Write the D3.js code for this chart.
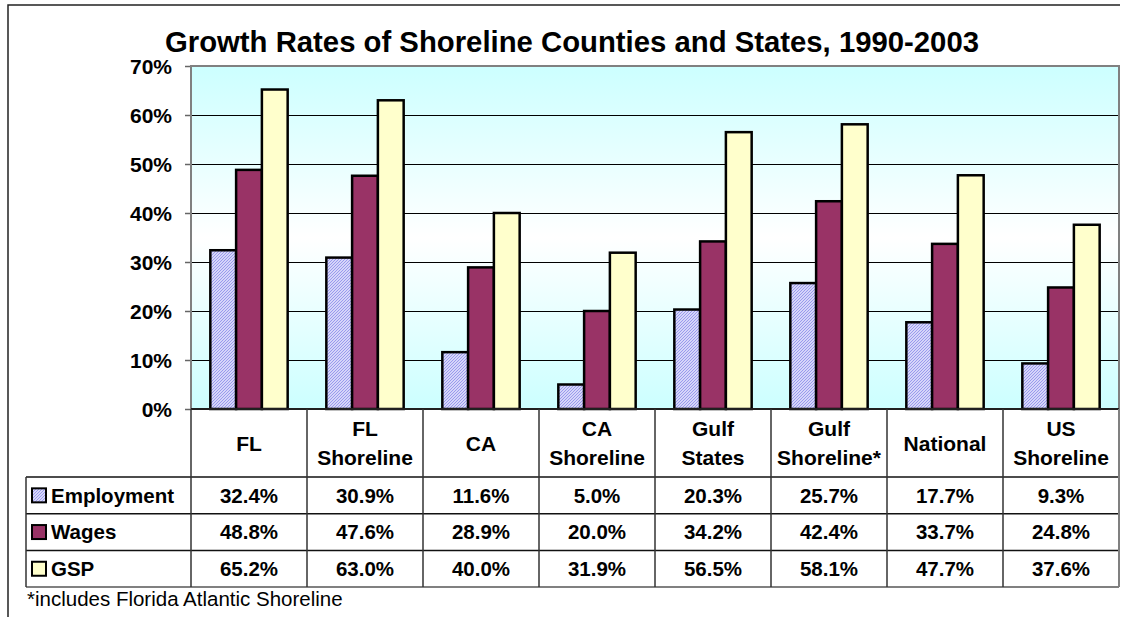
<!DOCTYPE html>
<html>
<head>
<meta charset="utf-8">
<script src="https://cdn.jsdelivr.net/npm/d3@7"></script>
<style>
  html, body { margin: 0; padding: 0; background: #fff; }
  svg { display: block; font-family: Arial, "Liberation Sans", sans-serif; }
</style>
</head>
<body>
<svg id="chart" width="1127" height="617"></svg>
<script>
// Growth rates 1990-2003, percent
const categories = ["FL", "FL Shoreline", "CA", "CA Shoreline", "Gulf States", "Gulf Shoreline*", "National", "US Shoreline"];
const categoryLines = [["FL"], ["FL", "Shoreline"], ["CA"], ["CA", "Shoreline"], ["Gulf", "States"], ["Gulf", "Shoreline*"], ["National"], ["US", "Shoreline"]];
const seriesNames = ["Employment", "Wages", "GSP"];
const employment = [32.4, 30.9, 11.6, 5.0, 20.3, 25.7, 17.7, 9.3];
const wages = [48.8, 47.6, 28.9, 20.0, 34.2, 42.4, 33.7, 24.8];
const gsp = [65.2, 63.0, 40.0, 31.9, 56.5, 58.1, 47.7, 37.6];
const yTicks = [0, 10, 20, 30, 40, 50, 60, 70];

const seriesValues = [employment, wages, gsp];
const fills = ["url(#hatch)", "#993366", "#ffffcc"];

const svg = d3.select("#chart");
const defs = svg.append("defs");

// diagonal hatch for Employment
const pat = defs.append("pattern")
  .attr("id", "hatch").attr("patternUnits", "userSpaceOnUse")
  .attr("width", 3).attr("height", 3);
pat.append("rect").attr("width", 3).attr("height", 3).attr("fill", "#f0f0ff");
pat.append("path").attr("d", "M-1,1 L1,-1 M0,3 L3,0 M2,4 L4,2")
  .attr("stroke", "#9595ec").attr("stroke-width", 1.1);

// plot background: cyan at the edges, white in the middle
const grad = defs.append("linearGradient").attr("id", "bg")
  .attr("x1", 0).attr("y1", 0).attr("x2", 0).attr("y2", 1);
grad.append("stop").attr("offset", "0%").attr("stop-color", "#ccffff");
grad.append("stop").attr("offset", "50%").attr("stop-color", "#ffffff");
grad.append("stop").attr("offset", "100%").attr("stop-color", "#ccffff");

const plot = { left: 191, right: 1119, top: 66, bottom: 409 };
const table = { left: 26, header: 477, rowH: 36.7 };
const tableFont = 20.5;

const x = d3.scaleBand().domain(categories).range([plot.left, plot.right]).padding(0);
const bw = x.bandwidth();
const barW = bw / 4.5;
const x1 = d3.scaleBand().domain(seriesNames).range([barW * 0.75, bw - barW * 0.75]).padding(0);
const y = d3.scaleLinear().domain([0, 70]).range([plot.bottom, plot.top]);

// outer frame
svg.append("path").attr("d", "M8,617 L8,5 L1120,5")
  .attr("fill", "none").attr("stroke", "#222").attr("stroke-width", 1.5);

// title
svg.append("text").attr("x", 572).attr("y", 52).attr("text-anchor", "middle")
  .attr("font-size", 29.3).attr("font-weight", "bold")
  .text("Growth Rates of Shoreline Counties and States, 1990-2003");

// plot area
svg.append("rect").attr("x", plot.left).attr("y", plot.top)
  .attr("width", plot.right - plot.left).attr("height", plot.bottom - plot.top)
  .attr("fill", "url(#bg)");

// gridlines
svg.append("g").selectAll("line").data(yTicks.filter(t => t > 0 && t < 70)).join("line")
  .attr("x1", plot.left).attr("x2", plot.right)
  .attr("y1", d => y(d) + 0.5).attr("y2", d => y(d) + 0.5)
  .attr("stroke", "#000").attr("stroke-width", 1);

// y axis
const yAxis = d3.axisLeft(y).tickValues(yTicks).tickSize(6).tickFormat(d => d + "%");
const ya = svg.append("g").attr("transform", `translate(${plot.left},0)`).call(yAxis);
ya.select(".domain").remove();
ya.selectAll(".tick line").attr("stroke", "#666").attr("stroke-width", 1.5);
ya.selectAll(".tick text").attr("x", -19).attr("dy", "0.36em")
  .attr("font-size", 21).attr("font-weight", "bold").attr("fill", "#000")
  .attr("font-family", "Arial, 'Liberation Sans', sans-serif");

// bars
const groups = svg.append("g").selectAll("g").data(categories).join("g")
  .attr("transform", d => `translate(${x(d)},0)`);
groups.selectAll("rect")
  .data((d, i) => seriesNames.map((s, j) => ({ s, j, v: seriesValues[j][i] })))
  .join("rect")
  .attr("x", d => x1(d.s)).attr("width", x1.bandwidth())
  .attr("y", d => y(d.v)).attr("height", d => y(0) - y(d.v))
  .attr("fill", d => fills[d.j])
  .attr("stroke", "#000").attr("stroke-width", 2.5);

// plot border and base line
svg.append("rect").attr("x", plot.left).attr("y", plot.top)
  .attr("width", plot.right - plot.left).attr("height", plot.bottom - plot.top)
  .attr("fill", "none").attr("stroke", "#808080").attr("stroke-width", 2);
svg.append("line").attr("x1", plot.left).attr("x2", plot.right)
  .attr("y1", plot.bottom).attr("y2", plot.bottom)
  .attr("stroke", "#000").attr("stroke-width", 1.5);

// data table
const rowTop = i => table.header + i * table.rowH;
const tableBottom = rowTop(3);
const tg = svg.append("g");

// horizontal rules
[0, 1, 2].forEach(i => {
  tg.append("line").attr("x1", table.left).attr("x2", plot.right)
    .attr("y1", rowTop(i)).attr("y2", rowTop(i))
    .attr("stroke", "#111").attr("stroke-width", 1.5);
});
tg.append("line").attr("x1", table.left).attr("x2", plot.right)
  .attr("y1", tableBottom).attr("y2", tableBottom)
  .attr("stroke", "#808080").attr("stroke-width", 2);

// vertical rules
const colEdges = categories.map(c => x(c)).concat([plot.right]);
tg.selectAll("line.v").data(colEdges).join("line").attr("class", "v")
  .attr("x1", d => d).attr("x2", d => d)
  .attr("y1", plot.bottom).attr("y2", tableBottom)
  .attr("stroke", (d, i) => i === colEdges.length - 1 ? "#808080" : "#333")
  .attr("stroke-width", (d, i) => i === colEdges.length - 1 ? 2 : 1.5);
tg.append("line").attr("x1", table.left).attr("x2", table.left)
  .attr("y1", table.header).attr("y2", tableBottom)
  .attr("stroke", "#333").attr("stroke-width", 1.5);

// category headers
const headerMid = (plot.bottom + table.header) / 2;
categories.forEach((c, i) => {
  const lines = categoryLines[i];
  const lh = 29;
  lines.forEach((ln, k) => {
    tg.append("text")
      .attr("x", x(c) + bw / 2)
      .attr("y", headerMid + (k - (lines.length - 1) / 2) * lh)
      .attr("dy", "0.36em").attr("text-anchor", "middle")
      .attr("font-size", 21).attr("font-weight", "bold")
      .text(ln);
  });
});

// legend keys and series names
seriesNames.forEach((s, j) => {
  const cy = rowTop(j) + table.rowH / 2;
  tg.append("rect").attr("x", 32).attr("y", cy - 7).attr("width", 14).attr("height", 14)
    .attr("fill", fills[j]).attr("stroke", "#000").attr("stroke-width", 2);
  tg.append("text").attr("x", 51).attr("y", cy).attr("dy", "0.36em")
    .attr("font-size", tableFont).attr("font-weight", "bold").text(s);
  categories.forEach((c, i) => {
    tg.append("text").attr("x", x(c) + bw / 2).attr("y", cy).attr("dy", "0.36em")
      .attr("text-anchor", "middle").attr("font-size", tableFont).attr("font-weight", "bold")
      .text(seriesValues[j][i].toFixed(1) + "%");
  });
});

// footnote
svg.append("text").attr("x", 27).attr("y", 606)
  .attr("font-size", 20.5).text("*includes Florida Atlantic Shoreline");
</script>
</body>
</html>
